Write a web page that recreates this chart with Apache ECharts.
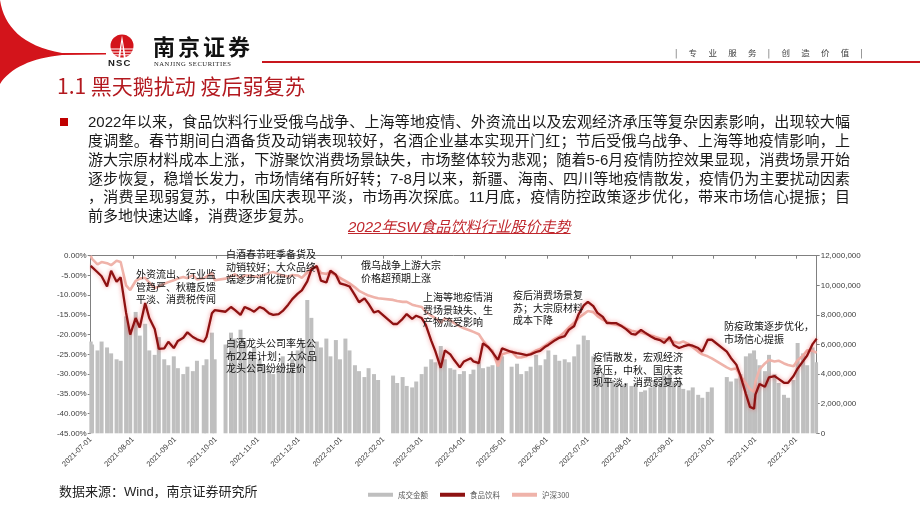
<!DOCTYPE html>
<html>
<head>
<meta charset="utf-8">
<script src="https://cdn.jsdelivr.net/npm/echarts@6/dist/echarts.min.js"></script>
<style>
html,body{margin:0;padding:0;background:#fff;}
#page{position:relative;width:920px;height:518px;overflow:hidden;font-family:"Liberation Sans","Noto Sans CJK SC",sans-serif;}
#chart{position:absolute;left:0;top:0;width:920px;height:518px;z-index:1;}
.abs{position:absolute;white-space:nowrap;z-index:2;}
.pl{position:absolute;left:88px;width:762px;height:18.7px;font-size:15px;line-height:18.7px;color:#1a1a1a;text-align:justify;text-align-last:justify;z-index:2;font-family:"Liberation Sans","Noto Sans CJK SC",sans-serif;}
</style>
</head>
<body>
<div id="page">
  <div id="chart"></div>
  <svg class="abs" style="left:0;top:0" width="920" height="110">
    <path d="M0,0 C4,26 22,46 62,53 L106,53 L106,54.6 L62,55 C32,58 10,68 0,84 Z" fill="#D3141B"/>
    <circle cx="122" cy="46" r="11.5" fill="#D3141B"/>
    <rect x="110" y="48.5" width="24" height="1" fill="#fff"/>
    <rect x="110" y="51.5" width="24" height="1" fill="#fff"/>
    <rect x="110" y="54.3" width="24" height="1" fill="#fff"/>
    <path d="M122,35.5 L118.2,58 L120.2,58 L122,42 L123.8,58 L125.8,58 Z" fill="#fff"/>
    <text x="108" y="66" font-family="Liberation Sans" font-weight="bold" font-size="9.5" letter-spacing="1.2" fill="#1b1b1b">NSC</text>
    <text x="154" y="66" font-family="Liberation Serif" font-size="6.6" letter-spacing="0.55" fill="#222">NANJING SECURITIES</text>
    <rect x="262" y="61" width="658" height="2" fill="#C8161D"/>
  </svg>
  <div class="abs" style="left:153px;top:33px;font-size:22px;line-height:24px;font-weight:bold;letter-spacing:3px;color:#111;font-family:'Noto Sans CJK SC';">南京证券</div>
  <div class="abs" style="left:675px;top:46px;font-size:8.5px;line-height:12px;letter-spacing:11.3px;color:#444;font-family:'Noto Sans CJK SC';">|专业服务|创造价值|</div>
  <div class="abs" style="left:57px;top:72px;font-size:21px;line-height:26px;color:#B3191F;font-family:'Noto Sans CJK SC';">1.1 黑天鹅扰动 疫后弱复苏</div>
  <div class="abs" style="left:60px;top:118px;width:8px;height:8px;background:#C00000;"></div>
  <div class="pl" style="top:113.4px;">2022年以来，食品饮料行业受俄乌战争、上海等地疫情、外资流出以及宏观经济承压等复杂因素影响，出现较大幅</div>
  <div class="pl" style="top:132.1px;">度调整。春节期间白酒备货及动销表现较好，名酒企业基本实现开门红；节后受俄乌战争、上海等地疫情影响，上</div>
  <div class="pl" style="top:150.8px;">游大宗原材料成本上涨，下游聚饮消费场景缺失，市场整体较为悲观；随着5-6月疫情防控效果显现，消费场景开始</div>
  <div class="pl" style="top:169.5px;">逐步恢复，稳增长发力，市场情绪有所好转；7-8月以来，新疆、海南、四川等地疫情散发，疫情仍为主要扰动因素</div>
  <div class="pl" style="top:188.2px;">，消费呈现弱复苏，中秋国庆表现平淡，市场再次探底。11月底，疫情防控政策逐步优化，带来市场信心提振；目</div>
  <div class="pl" style="top:206.9px;text-align:left;text-align-last:left;">前多地快速达峰，消费逐步复苏。</div>
  <div class="abs" style="left:348px;top:218px;font-size:15px;line-height:18px;font-style:italic;text-decoration:underline;color:#C0272D;font-family:'Liberation Sans','Noto Sans CJK SC';">2022年SW食品饮料行业股价走势</div>
  <div class="abs" style="left:59px;top:484px;font-size:13px;line-height:16px;color:#222;font-family:'Liberation Sans','Noto Sans CJK SC';">数据来源：Wind，南京证券研究所</div>
</div>
<script>
// ---------------- data ----------------
const dates = [
  '2021-07-01','2021-07-02','2021-07-06','2021-07-09','2021-07-13','2021-07-16','2021-07-20','2021-07-23','2021-07-27','2021-07-30',
  '2021-08-03','2021-08-06','2021-08-10','2021-08-13','2021-08-17','2021-08-20','2021-08-24','2021-08-27','2021-08-31',
  '2021-09-03','2021-09-07','2021-09-10','2021-09-14','2021-09-17','2021-09-22','2021-09-24','2021-09-28','2021-09-30',
  '2021-10-08','2021-10-12','2021-10-15','2021-10-19','2021-10-22','2021-10-26','2021-10-29',
  '2021-11-02','2021-11-05','2021-11-09','2021-11-12','2021-11-16','2021-11-19','2021-11-23','2021-11-26','2021-11-30',
  '2021-12-03','2021-12-07','2021-12-10','2021-12-14','2021-12-17','2021-12-21','2021-12-24','2021-12-28','2021-12-31',
  '2022-01-04','2022-01-07','2022-01-11','2022-01-14','2022-01-18','2022-01-21','2022-01-25','2022-01-28',
  '2022-02-08','2022-02-11','2022-02-15','2022-02-18','2022-02-22','2022-02-25',
  '2022-03-01','2022-03-04','2022-03-08','2022-03-11','2022-03-15','2022-03-18','2022-03-22','2022-03-25','2022-03-29',
  '2022-04-01','2022-04-06','2022-04-08','2022-04-12','2022-04-15','2022-04-19','2022-04-22','2022-04-26','2022-04-29',
  '2022-05-06','2022-05-10','2022-05-13','2022-05-17','2022-05-20','2022-05-24','2022-05-27','2022-05-31',
  '2022-06-02','2022-06-07','2022-06-10','2022-06-14','2022-06-17','2022-06-21','2022-06-24','2022-06-28',
  '2022-07-01','2022-07-05','2022-07-08','2022-07-12','2022-07-15','2022-07-19','2022-07-22','2022-07-26','2022-07-29',
  '2022-08-02','2022-08-05','2022-08-09','2022-08-12','2022-08-16','2022-08-19','2022-08-23','2022-08-26','2022-08-30',
  '2022-09-02','2022-09-06','2022-09-09','2022-09-13','2022-09-16','2022-09-20','2022-09-23','2022-09-27','2022-09-30',
  '2022-10-11','2022-10-14','2022-10-18','2022-10-21','2022-10-25','2022-10-28','2022-10-31',
  '2022-11-01','2022-11-04','2022-11-08','2022-11-11','2022-11-15','2022-11-18','2022-11-22','2022-11-25','2022-11-29',
  '2022-12-02','2022-12-06','2022-12-09','2022-12-13','2022-12-16'
];
// 食品饮料 cumulative change (%)
const foodBeverage = [
  -2.6,-3.0,-4.2,-5.2,-7.8,-3.8,-6.6,-5.5,-14.5,-20.0,
  -15.8,-18.2,-12.0,-15.8,-18.6,-23.6,-23.5,-21.8,-23.4,
  -21.6,-20.8,-19.4,-20.6,-21.2,-21.8,-20.6,-14.6,-13.8,
  -14.2,-13.0,-13.8,-15.0,-13.0,-13.6,-14.2,
  -13.0,-13.4,-14.6,-15.0,-14.8,-14.0,-12.4,-11.0,-9.6,
  -8.8,-6.5,-3.5,-2.6,-6.3,-6.8,-3.8,-4.8,-7.0,
  -7.4,-7.8,-10.0,-11.8,-10.8,-12.2,-14.4,-14.0,
  -17.3,-17.3,-16.0,-14.8,-16.0,-15.2,
  -15.8,-17.5,-21.5,-24.2,-28.4,-24.0,-25.0,-26.5,-28.3,
  -26.8,-26.0,-26.8,-27.2,-22.2,-23.2,-24.5,-26.4,-23.5,
  -24.4,-24.7,-24.9,-25.2,-25.0,-24.4,-24.1,-23.0,
  -22.6,-21.4,-20.8,-20.4,-18.8,-17.8,-15.0,-12.6,
  -11.7,-12.8,-14.5,-15.5,-17.1,-17.1,-17.1,-17.9,-18.6,
  -19.8,-20.0,-18.8,-19.5,-20.4,-21.0,-21.4,-22.1,-20.6,
  -22.6,-23.4,-23.0,-22.6,-22.8,-23.4,-24.3,-21.3,-21.3,
  -24.3,-25.9,-27.6,-30.4,-35.0,-38.3,-38.8,
  -35.2,-32.5,-33.2,-30.8,-30.5,-31.2,-32.2,-32.2,-30.5,
  -28.6,-26.7,-25.3,-22.4,-21.0
];
// 沪深300 cumulative change (%)
const csi300 = [
  0.0,-0.8,-2.2,-1.6,-1.9,-2.4,-1.3,-1.6,-7.5,-8.7,
  -6.4,-5.8,-5.6,-6.8,-8.2,-7.8,-7.1,-6.7,-6.2,
  -5.8,-5.4,-5.7,-4.9,-6.0,-5.7,-5.3,-4.3,-6.2,
  -5.8,-5.2,-4.7,-5.7,-5.0,-5.0,-5.3,
  -5.3,-4.9,-4.4,-4.1,-4.7,-5.0,-5.3,-4.9,-5.0,
  -5.6,-4.2,-3.2,-2.9,-4.4,-4.6,-4.1,-5.0,-5.6,
  -6.4,-7.0,-8.0,-8.9,-9.6,-10.1,-10.5,-10.8,
  -11.2,-11.5,-11.7,-11.7,-12.4,-12.7,
  -13.0,-14.2,-15.2,-15.8,-17.0,-15.9,-16.4,-17.1,-17.9,
  -18.4,-19.0,-19.3,-19.9,-21.5,-23.3,-24.1,-28.0,-25.0,
  -24.2,-25.8,-25.8,-25.4,-24.8,-24.0,-23.6,-22.7,
  -22.2,-21.0,-20.5,-19.3,-18.2,-17.0,-15.8,-14.8,
  -14.0,-14.3,-15.3,-16.2,-16.7,-17.3,-17.5,-17.8,-18.4,
  -19.0,-19.2,-19.4,-19.8,-20.2,-20.5,-21.0,-21.2,-21.4,
  -21.8,-22.1,-21.7,-22.4,-23.2,-24.3,-25.0,-25.5,-26.0,
  -28.3,-28.8,-28.6,-30.4,-32.3,-33.8,-34.5,
  -32.0,-28.8,-27.3,-26.4,-26.8,-26.6,-27.3,-27.7,-28.0,
  -26.5,-25.3,-24.0,-24.1,-24.6
];
// 成交金额
const turnover = [
  6200000,6000000,5600000,6200000,5800000,5400000,5000000,4900000,7900000,7000000,
  8200000,6600000,7400000,5600000,5300000,6500000,5000000,4600000,5200000,
  4400000,4000000,4500000,4200000,4900000,4600000,5000000,6800000,5000000,
  6000000,6800000,6400000,7000000,6200000,5500000,5800000,
  5000000,4600000,4300000,4000000,4400000,5200000,4200000,5000000,5600000,
  6300000,9000000,7800000,6200000,5800000,6400000,5200000,6300000,5000000,
  6400000,5600000,4600000,4200000,3800000,4400000,4000000,3600000,
  3900000,3400000,3800000,3200000,3100000,3500000,
  4000000,4500000,5000000,4800000,5900000,5000000,4400000,4300000,4000000,
  4200000,4000000,4300000,4800000,4400000,4500000,4600000,4900000,5200000,
  4500000,4700000,4000000,4200000,4500000,5300000,4600000,5000000,
  5600000,5300000,4900000,5000000,4800000,5200000,6000000,6600000,
  6300000,5200000,4300000,4000000,3800000,3600000,3400000,3300000,3400000,
  3200000,3400000,2800000,2900000,3100000,3600000,3300000,3900000,4000000,
  3500000,3600000,3000000,2900000,3100000,2600000,2400000,2800000,3100000,
  3800000,3500000,3700000,4000000,5200000,5400000,5600000,
  5000000,4600000,4200000,5300000,4000000,3400000,2600000,2400000,3600000,
  6100000,5400000,4600000,5800000,4800000
];
const monthTicks = [
  '2021-07-01','2021-08-01','2021-09-01','2021-10-01','2021-11-01','2021-12-01',
  '2022-01-01','2022-02-01','2022-03-01','2022-04-01','2022-05-01','2022-06-01',
  '2022-07-01','2022-08-01','2022-09-01','2022-10-01','2022-11-01','2022-12-01'
];
const seriesNames = ['成交金额','食品饮料','沪深300'];
const notes = [
  ['外资流出、行业监','管趋严、秋糖反馈','平淡、消费税传闻'],
  ['白酒春节旺季备货及','动销较好；大众品终','端逐步消化提价'],
  ['白酒龙头公司率先公','布22年计划；大众品','龙头公司纷纷提价'],
  ['俄乌战争上游大宗','价格超预期上涨'],
  ['上海等地疫情消','费场景缺失、生','产物流受影响'],
  ['疫后消费场景复','苏；大宗原材料','成本下降'],
  ['疫情散发，宏观经济','承压，中秋、国庆表','现平淡，消费弱复苏'],
  ['防疫政策逐步优化，','市场信心提振']
];
// ---------------- chart ----------------
const notePos = [[136,268],[226,248],[226,337],[361,259],[423,291],[513,289],[593,351],[724,320]];
const T = (d) => echarts.time.parse(d).getTime();
const tickTimes = monthTicks.map(T);
const xs = dates.map(T);
const pad2 = (n) => (n < 10 ? '0' : '') + n;
const fmtDate = (v) => { const d = new Date(v); return d.getFullYear() + '-' + pad2(d.getMonth() + 1) + '-' + pad2(d.getDate()); };
const chart = echarts.init(document.getElementById('chart'), null, {renderer:'canvas'});
const font = '"Liberation Sans", Arial, sans-serif';
chart.setOption({
  animation:false,
  grid:{left:90.7, top:255.7, width:726, height:177.6},
  legend:{
    left:363, top:486, itemWidth:25, itemHeight:4, itemGap:12,
    textStyle:{fontSize:7.5, color:'#595959', fontFamily:'"Noto Sans CJK SC"'},
    data:[{name:seriesNames[0], icon:'rect'}, {name:seriesNames[1], icon:'rect'}, {name:seriesNames[2], icon:'rect'}]
  },
  xAxis:{
    type:'value', min:T('2021-07-01'), max:T('2022-12-16'),
    axisLine:{lineStyle:{color:'#808080', width:1}},
    axisTick:{show:true, customValues:tickTimes, length:3, lineStyle:{color:'#808080'}},
    axisLabel:{customValues:tickTimes, rotate:45, fontSize:7.5, color:'#404040', fontFamily:font, margin:5,
      formatter:fmtDate},
    splitLine:{show:false}
  },
  yAxis:[
    {type:'value', min:-45, max:0, interval:5, position:'left',
     axisLine:{show:true, lineStyle:{color:'#808080'}},
     axisTick:{show:true, length:3, lineStyle:{color:'#808080'}},
     axisLabel:{fontSize:8, color:'#404040', fontFamily:font, margin:4, formatter:(v)=>v.toFixed(2)+'%'},
     splitLine:{show:false}},
    {type:'value', min:0, max:12000000, interval:2000000, position:'right',
     axisLine:{show:true, lineStyle:{color:'#808080'}},
     axisTick:{show:true, length:3, lineStyle:{color:'#808080'}},
     axisLabel:{fontSize:8, color:'#404040', fontFamily:font, margin:4, formatter:(v)=>v.toLocaleString('en-US')},
     splitLine:{show:false}}
  ],
  series:[
    {name:seriesNames[0], type:'bar', yAxisIndex:1, barWidth:4, itemStyle:{color:'#BFBFBF'},
     data:xs.map((x,i)=>[x, turnover[i]]), z:1},
    {name:seriesNames[2], type:'line', yAxisIndex:0, symbol:'none', smooth:false,
     lineStyle:{color:'#EFB3AA', width:2.6}, itemStyle:{color:'#EFB3AA'},
     data:xs.map((x,i)=>[x, csi300[i]]), z:2},
    {name:seriesNames[1], type:'line', yAxisIndex:0, symbol:'none', smooth:false,
     lineStyle:{color:'#8E1212', width:2.3, shadowColor:'rgba(235,50,50,0.55)', shadowBlur:4},
     itemStyle:{color:'#8E1212'},
     data:xs.map((x,i)=>[x, foodBeverage[i]]), z:3}
  ],
  graphic: notes.map((n,i)=>({
    type:'text', left:notePos[i][0], top:notePos[i][1], z:100,
    style:{text:n.join('\n'), fontSize:10, fontFamily:'"Noto Sans CJK SC"', fill:'#111', lineHeight:12.5}
  }))
});
</script>
</body>
</html>
